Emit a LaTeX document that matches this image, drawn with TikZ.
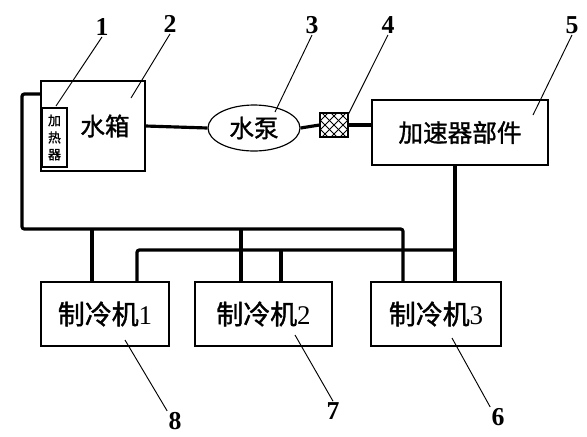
\documentclass[tikz,border=0pt]{standalone}
\usepackage{fontspec}
\setmainfont{Liberation Serif}
\newfontfamily\cjk[BoldFont={Noto Sans CJK SC},BoldFeatures={FakeBold=1.3}]{Noto Sans CJK SC}
\usetikzlibrary{positioning,shapes.geometric}
\tikzset{box/.style={draw,line width=1pt,inner sep=0pt,font=\cjk\bfseries\fontsize{21}{24}\selectfont}}
\tikzset{pipe/.style={line width=2.7pt,rounded corners=2pt}}
\tikzset{leader/.style={line width=0.8pt}}
\tikzset{num/.style={inner sep=1pt,font=\bfseries\fontsize{22}{24}\selectfont}}

\begin{document}
\begin{tikzpicture}[x=0.03cm,y=-0.03cm]
	\useasboundingbox (0,0) rectangle (587,436);
	% parts
	\node[box,minimum width=104*0.03cm,minimum height=90*0.03cm] (tank) at (93,126) {};
	\node[font=\cjk\bfseries\fontsize{21}{24}\selectfont] (tanktext) at (105,126) {水箱};
	\node[box,minimum width=25*0.03cm,minimum height=59*0.03cm,align=center,
		font=\cjk\bfseries\fontsize{11}{14.5}\selectfont] (heater) at (54.5,137.5) {加\\热\\器};
	\node[box,ellipse,minimum width=92*0.03cm,minimum height=46*0.03cm] (pump) at (254,128) {水泵};
	\node[box,minimum width=28*0.03cm,minimum height=24*0.03cm] (filter) at (334,125) {};
	\begin{scope}
		\clip (filter.south west) rectangle (filter.north east);
		\foreach \k in {-3,...,3}
			\draw[line width=0.7pt] (334+\k*9-15,110) -- (334+\k*9+15,140)
				(334+\k*9+15,110) -- (334+\k*9-15,140);
	\end{scope}
	\node[box,minimum width=176*0.03cm,minimum height=65*0.03cm] (accel) at (460,132.5) {加速器部件};
	\node[box,minimum width=128*0.03cm,minimum height=64*0.03cm,font=\cjk\bfseries\fontsize{23}{26}\selectfont] (c1) at (105,314) {制冷机{\rmfamily\mdseries 1}};
	\node[box,minimum width=137*0.03cm,minimum height=64*0.03cm,font=\cjk\bfseries\fontsize{23}{26}\selectfont] (c2) at (263.5,314) {制冷机{\rmfamily\mdseries 2}};
	\node[box,minimum width=130*0.03cm,minimum height=64*0.03cm,font=\cjk\bfseries\fontsize{23}{26}\selectfont] (c3) at (436,314) {制冷机{\rmfamily\mdseries 3}};

	% pipes
	\coordinate (lt) at (22,229);
	\coordinate (rt) at (403,229);
	\coordinate (lb) at (137,250);
	\coordinate (rb) at (455,250);
	\draw[pipe] (tank.east) -- (pump.west);
	\draw[pipe] (pump.east) -- (filter.west);
	\draw[pipe] (filter.east) -- (filter.east -| accel.west);
	\draw[pipe] (tank.west |- 0,94) -- (lt |- 0,94) -- (lt) -- (rt) -- (rt |- c3.north);
	\draw[pipe] (92,229) -- (92,0 |- c1.north);
	\draw[pipe] (241,229) -- (241,0 |- c2.north);
	\draw[pipe] (lb |- c1.north) -- (lb) -- (rb);
	\draw[pipe] (281,250) -- (281,0 |- c2.north);
	\draw[pipe] (accel.south -| rb) -- (rb |- c3.north);

	% numbers
	\node[num] (n1) at (102,27) {1};
	\node[num] (n2) at (170,24) {2};
	\node[num] (n3) at (312,25) {3};
	\node[num] (n4) at (388,25) {4};
	\node[num] (n5) at (572,25) {5};
	\node[num] (n6) at (498,417) {6};
	\node[num] (n7) at (333,411) {7};
	\node[num] (n8) at (175,421) {8};
	\coordinate (p1) at (56,106);
	\coordinate (p2) at (131,98);
	\coordinate (p3) at (275,112);
	\coordinate (p4) at (348,115);
	\coordinate (p5) at (533,115);
	\coordinate (p6) at (452,338);
	\coordinate (p7) at (295,335);
	\coordinate (p8) at (125,340);
	\draw[leader] (n1.south) -- (p1);
	\draw[leader] (n2.south) -- (p2);
	\draw[leader] (n3.south) -- (p3);
	\draw[leader] (n4.south) -- (p4);
	\draw[leader] (n5.south) -- (p5);
	\draw[leader] (p6) -- (n6.north west);
	\draw[leader] (p7) -- (n7.north);
	\draw[leader] (p8) -- (n8.north west);
\end{tikzpicture}
\end{document}
